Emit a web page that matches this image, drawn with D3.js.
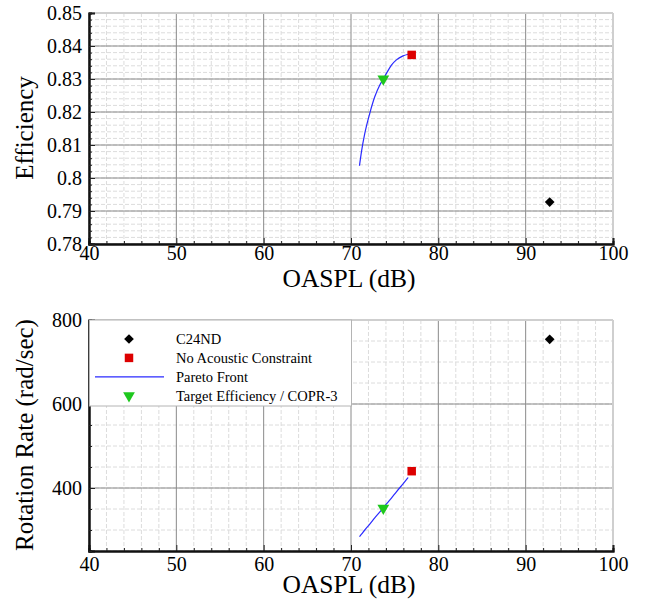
<!DOCTYPE html>
<html>
<head>
<meta charset="utf-8">
<script src="https://cdn.jsdelivr.net/npm/d3@7"></script>
<style>
body { margin: 0; background: #fff; }
svg, svg text { font-family: "Liberation Serif", "Times New Roman", serif !important; fill: #000; }
</style>
</head>
<body>
<div id="app"></div>
<script>
// pareto front
var paretoOaspl = [70.97, 71.20, 71.58, 72.15, 72.72, 73.30, 73.71, 74.06, 74.63, 75.20, 75.96, 76.54];
var paretoEff = [0.8037, 0.8080, 0.8135, 0.8196, 0.8246, 0.8282, 0.8300, 0.8317, 0.8342, 0.8358, 0.8370, 0.8375];
var paretoRate = [284, 290, 300, 314, 329, 343, 353, 362, 376, 391, 410, 425];

// single designs
var designNames = ["C24ND", "No Acoustic Constraint", "Target Efficiency / COPR-3"];
var designOaspl = [92.75, 76.95, 73.70];
var designEff = [0.7927, 0.8373, 0.8300];
var designRate = [754, 440, 352];

var legendNames = ["C24ND", "No Acoustic Constraint", "Pareto Front", "Target Efficiency / COPR-3"];

var xTicks = [40, 50, 60, 70, 80, 90, 100];
var effTicks = [0.78, 0.79, 0.80, 0.81, 0.82, 0.83, 0.84, 0.85];
var effTickLabels = ["0.78", "0.79", "0.8", "0.81", "0.82", "0.83", "0.84", "0.85"];
var rateTicks = [400, 600, 800];

var W = 651, H = 604;
var plotL = 89, plotR = 613;
var serif = "Liberation Serif";

var svg = d3.select("#app").append("svg")
    .attr("width", W)
    .attr("height", H)
    .attr("font-family", serif);

var x = d3.scaleLinear().domain([40, 100]).range([plotL, plotR]);

function markerPath(kind) {
    if (kind == 0) return d3.symbol().type(d3.symbolDiamond2).size(60)();
    if (kind == 1) return d3.symbol().type(d3.symbolSquare).size(72)();
    return d3.symbol().type(d3.symbolTriangle).size(60)();
}
var markerColor = ["#000", "#dd0000", "#1ec81e"];
var markerRot = [0, 0, 180];

function panel(top, bottom, y, yTicks, yLabels, yMinorStep, yTitle, yTitleY, xLabelGap, xTitleY, yVals, pareto) {
    var g = svg.append("g");
    var yDom = y.domain();

    // minor grid
    var xMinor = d3.range(40, 100.1, 2).filter(function (v) { return v % 10 != 0; });
    var yMinor = d3.range(yDom[0], yDom[1] + yMinorStep / 2, yMinorStep);
    g.selectAll(".xm").data(xMinor).enter().append("line")
        .attr("x1", function (d) { return x(d); }).attr("x2", function (d) { return x(d); })
        .attr("y1", top).attr("y2", bottom)
        .style("stroke", "#dcdcdc").style("stroke-dasharray", "4,2");
    g.selectAll(".ym").data(yMinor).enter().append("line")
        .attr("x1", plotL).attr("x2", plotR)
        .attr("y1", function (d) { return y(d); }).attr("y2", function (d) { return y(d); })
        .style("stroke", "#dcdcdc").style("stroke-dasharray", "4,2");

    // major grid
    g.selectAll(".xg").data(xTicks).enter().append("line")
        .attr("x1", function (d) { return x(d); }).attr("x2", function (d) { return x(d); })
        .attr("y1", top).attr("y2", bottom)
        .style("stroke", "#8a8a8a");
    g.selectAll(".yg").data(yTicks).enter().append("line")
        .attr("x1", plotL).attr("x2", plotR)
        .attr("y1", function (d) { return y(d); }).attr("y2", function (d) { return y(d); })
        .style("stroke", "#8a8a8a");

    // frame: light top/right, dark left/bottom
    g.append("line").attr("x1", plotL).attr("x2", plotR).attr("y1", top).attr("y2", top)
        .style("stroke", "#cfcfcf").style("stroke-width", 2);
    g.append("line").attr("x1", plotR).attr("x2", plotR).attr("y1", top).attr("y2", bottom)
        .style("stroke", "#cfcfcf").style("stroke-width", 2);

    // axes, ticks pointing inward
    var xAxis = g.append("g").attr("transform", "translate(0," + bottom + ")")
        .call(d3.axisBottom(x).tickValues(xTicks).tickSize(-6).tickPadding(xLabelGap).tickFormat(d3.format("d")));
    var xAxisMinor = g.append("g").attr("transform", "translate(0," + bottom + ")")
        .call(d3.axisBottom(x).tickValues(xMinor).tickSize(-3).tickFormat(""));
    var yAxis = g.append("g").attr("transform", "translate(" + plotL + ",0)")
        .call(d3.axisLeft(y).tickValues(yTicks).tickSize(-6).tickPadding(7)
            .tickFormat(function (d, i) { return yLabels[i]; }));
    var yAxisMinor = g.append("g").attr("transform", "translate(" + plotL + ",0)")
        .call(d3.axisLeft(y).tickValues(yMinor).tickSize(-3).tickFormat(""));

    [xAxis, xAxisMinor, yAxis, yAxisMinor].forEach(function (a) {
        a.attr("font-family", serif).attr("font-size", 20);
        a.select(".domain").style("stroke", "#111").style("stroke-width", 2);
        a.selectAll(".tick line").style("stroke", "#222");
        a.selectAll("text").style("font-size", "20px").attr("font-family", serif);
    });
    xAxis.selectAll("text").attr("dy", "0.71em");

    // titles
    g.append("text")
        .attr("x", 349)
        .attr("y", xTitleY)
        .attr("text-anchor", "middle")
        .attr("font-family", serif)
        .style("font-size", "25.5px")
        .text("OASPL (dB)");
    g.append("text")
        .attr("transform", "translate(33," + yTitleY + ") rotate(-90)")
        .attr("text-anchor", "middle")
        .attr("font-family", serif)
        .style("font-size", "25px")
        .text(yTitle);

    // pareto front
    var line = d3.line()
        .x(function (d, i) { return x(paretoOaspl[i]); })
        .y(function (d) { return y(d); })
        .curve(d3.curveMonotoneX);
    g.append("path")
        .datum(pareto)
        .attr("d", line)
        .style("fill", "none")
        .style("stroke", "#2a2aff")
        .style("stroke-width", 1.2);

    // design points
    g.selectAll(".pt").data(yVals).enter().append("path")
        .attr("d", function (d, i) { return markerPath(i); })
        .attr("transform", function (d, i) {
            return "translate(" + x(designOaspl[i]) + "," + y(d) + ") rotate(" + markerRot[i] + ")";
        })
        .style("fill", function (d, i) { return markerColor[i]; });
    return g;
}

var yEff = d3.scaleLinear().domain([0.78, 0.85]).range([244, 13]);
panel(13, 244, yEff, effTicks, effTickLabels, 0.002, "Efficiency", 128, 2, 287, designEff, paretoEff);

var yRate = d3.scaleLinear().domain([250, 800]).range([551, 320]);
var lower = panel(320, 551, yRate, rateTicks, rateTicks.map(String), 50, "Rotation Rate (rad/sec)", 435, 6, 593, designRate, paretoRate);

// legend
var leg = lower.append("g");
leg.append("rect")
    .attr("x", plotL + 0.5).attr("y", 320)
    .attr("width", 262).attr("height", 86)
    .style("fill", "#fff").style("stroke", "#b4b4b4");
var legRows = leg.selectAll(".row").data(legendNames).enter().append("g")
    .attr("transform", function (d, i) { return "translate(0," + (339 + i * 18.9) + ")"; });
legRows.append("text")
    .attr("x", 176).attr("dy", "0.35em")
    .attr("font-family", serif)
    .style("font-size", "14.5px")
    .text(function (d) { return d; });
legRows.each(function (d, i) {
    var r = d3.select(this);
    if (i == 2) {
        r.append("line").attr("x1", 95).attr("x2", 164).attr("y1", 0).attr("y2", 0)
            .style("stroke", "#2a2aff").style("stroke-width", 1.2);
    } else {
        var k = i < 2 ? i : 2;
        r.append("path")
            .attr("d", markerPath(k))
            .attr("transform", "translate(129,0) rotate(" + markerRot[k] + ")")
            .style("fill", markerColor[k]);
    }
});
</script>
</body>
</html>
